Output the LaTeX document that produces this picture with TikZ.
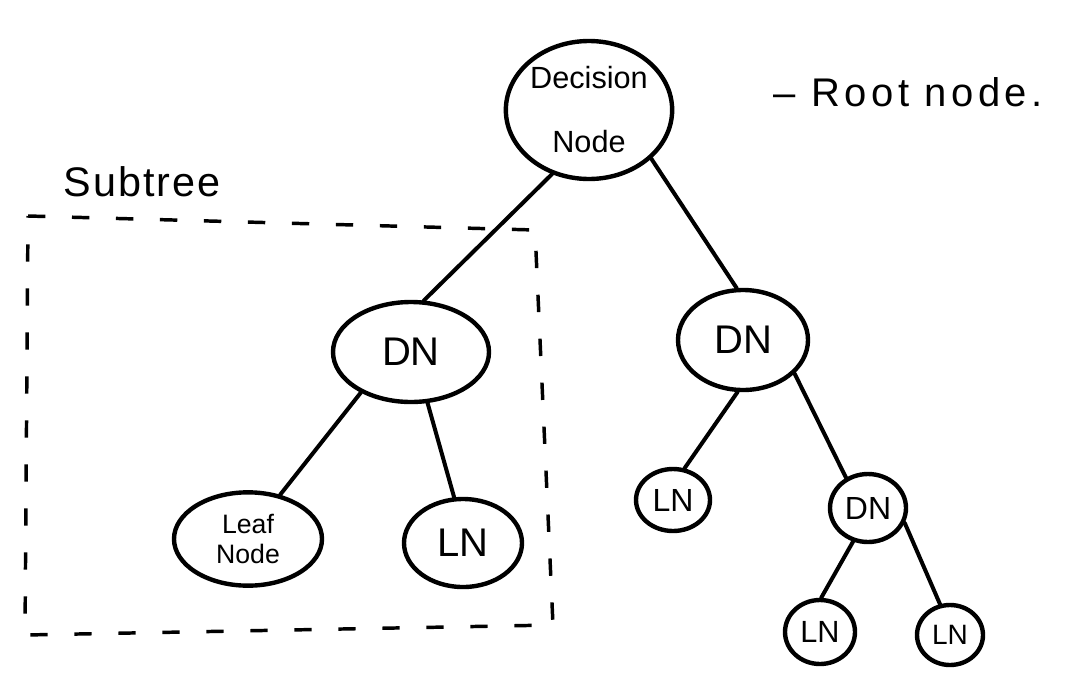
\documentclass[tikz,border=0pt]{standalone}
\usepackage{fontspec}
\setmainfont{Liberation Sans}
\usetikzlibrary{shapes.geometric}

\tikzset{every picture/.style={line width=0.75pt}}
\tikzset{
  treenode/.style={draw, ellipse, inner sep=0pt, line width=3.3pt, align=center},
  branch/.style={line width=3pt, line cap=round},
  subbox/.style={line width=2.6pt, dash pattern=on 13pt off 20pt}
}

\begin{document}
\begin{tikzpicture}[x=0.75pt,y=0.75pt,yscale=-1,xscale=1]
\useasboundingbox (0,0) rectangle (1074,675);

% Root of the tree
\node [treenode, minimum width=120pt, minimum height=103.5pt,
  font=\fontsize{23}{48}\selectfont] (root) at (589,110) {Decision\\Node};
% Text Node
\node [anchor=west, inner sep=0.75pt,
  font=\fontsize{30}{32}\selectfont\addfontfeature{LetterSpace=11}] (rootlbl) at (772,92) {--\hspace{12pt}Root node.};

% Second level
\node [treenode, minimum width=117pt, minimum height=75pt, font=\fontsize{30}{34}\selectfont] (dnleft) at (411,352) {DN};
\node [treenode, minimum width=97.5pt, minimum height=75pt, font=\fontsize{30}{34}\selectfont] (dnright) at (743,340) {DN};

% Third level
\node [treenode, minimum width=111pt, minimum height=70pt, font=\fontsize{20}{23}\selectfont] (leaf) at (248,539) {Leaf\\Node};
\node [treenode, minimum width=88.5pt, minimum height=66pt, font=\fontsize{30}{34}\selectfont] (lnmid) at (463,543) {LN};
\node [treenode, minimum width=55.5pt, minimum height=46.5pt, font=\fontsize{24}{28}\selectfont] (lnright) at (673,500) {LN};
\node [treenode, minimum width=57pt, minimum height=51pt, font=\fontsize{24}{28}\selectfont] (dnsmall) at (868,508) {DN};

% Fourth level
\node [treenode, minimum width=52.5pt, minimum height=48pt, font=\fontsize{23}{26}\selectfont] (lnbl) at (820,632) {LN};
\node [treenode, minimum width=49.5pt, minimum height=45pt, font=\fontsize{21}{24}\selectfont] (lnbr) at (950,635) {LN};

% Branches
\draw [branch] (root.240) -- (dnleft.76);
\draw [branch] (root.322) -- (dnright.97);
\draw [branch] (dnleft.219) -- (leaf.54);
\draw [branch] (dnleft.288) -- (lnmid.101);
\draw [branch] (dnright.264) -- (lnright.70);
\draw [branch] (dnright.327) -- (dnsmall.126);
\draw [branch] (dnsmall.246) -- (lnbl.88);
\draw [branch] (dnsmall.338) -- (lnbr.108);

% Subtree frame
\draw [subbox] (28,216) -- (535,230) -- (553,625) -- (25,635) -- cycle;
% Text Node
\node [font=\fontsize{31}{34}\selectfont\addfontfeature{LetterSpace=5}] (sublbl) at (142,182) {Subtree};

\end{tikzpicture}
\end{document}
